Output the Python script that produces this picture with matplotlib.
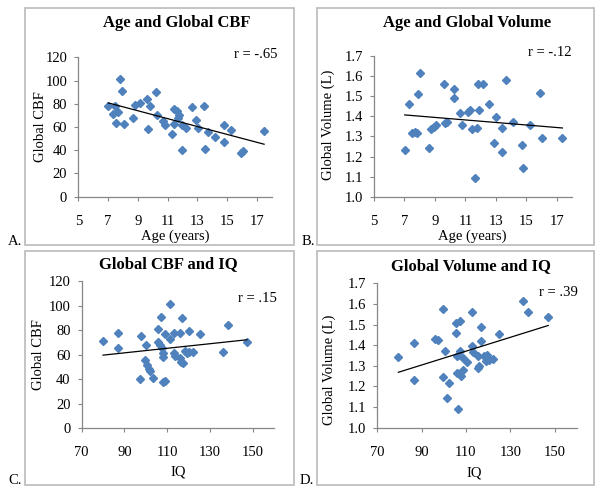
import numpy as np
import matplotlib
matplotlib.use("Agg")
import matplotlib.pyplot as plt
from matplotlib.patches import Rectangle

plt.rcParams['font.family'] = ['Liberation Serif', 'DejaVu Serif']

# Panel A: Age vs Global CBF
age_A = [7.01, 7.46, 7.79, 7.9, 7.3, 7.68, 7.5, 8.04, 8.64, 8.8, 9.13, 9.58, 9.8, 9.65,
         10.2, 10.25, 10.7, 10.8, 11.26, 11.4, 11.64, 11.77, 11.44, 11.7, 11.97, 11.93,
         12.2, 12.64, 12.93, 13.04, 13.42, 13.47, 13.7, 14.16, 14.77, 14.79, 15.28, 15.9,
         16.06, 17.47]
cbf_A = [77.8, 78, 101.7, 91, 71, 72.6, 63.4, 62.5, 67.7, 79.2, 80.7, 84.4, 78.4, 58.2,
         90.5, 70.6, 65.4, 61.3, 53.9, 75.8, 73.5, 70.3, 62.5, 67.7, 40.3, 61.9,
         58.8, 77.5, 66.3, 59, 77.8, 41.4, 55.9, 51.3, 61.6, 47.5, 57.6, 38,
         39.4, 56.7]

# Panel B: Age vs Global Volume
age_B = [7.02, 7.3, 7.5, 7.68, 7.83, 7.9, 8.0, 8.63, 8.74, 8.92, 9.07, 9.57, 9.68, 9.79,
         10.22, 10.22, 10.62, 10.79, 11.18, 11.3, 11.42, 11.66, 11.75, 11.84, 12.14, 11.92,
         12.58, 12.88, 12.99, 13.38, 13.4, 13.64, 14.1, 14.73, 14.76, 15.24, 15.89, 16.0,
         17.37]
vol_B = [1.232, 1.463, 1.319, 1.324, 1.319, 1.509, 1.615, 1.244, 1.338, 1.345, 1.355, 1.559,
         1.368, 1.372, 1.537, 1.489, 1.415, 1.355, 1.42, 1.43, 1.337, 1.093, 1.343, 1.562,
         1.559, 1.431, 1.46, 1.265, 1.398, 1.343, 1.222, 1.579, 1.372, 1.257, 1.144, 1.355,
         1.516, 1.29, 1.292]

# Panel C: IQ vs Global CBF
iq_C = [80.0, 86.9, 86.9, 97.9, 100.0, 97.1, 99.7, 100.5, 101.3, 101.9, 103.2, 105.7, 105.7,
        106.8, 107.2, 107.6, 107.9, 108.0, 107.9, 109.1, 109.1, 111.2, 111.5, 113.2, 113.2,
        113.8, 116, 116, 116.6, 117.3, 117.1, 118.5, 119.1, 120.4, 120.4, 122.3, 125.2, 136,
        138.4, 147.3]
cbf_C = [71.4, 77.4, 65.2, 75.2, 67.6, 40.2, 55.6, 51.6, 48.3, 46.7, 41.3, 80.6, 70.6,
         67.6, 90.4, 65.2, 61.1, 57.8, 38, 38.8, 76.8, 101.5, 72.5, 77.9, 61.1,
         59.2, 77.4, 57, 54.3, 53, 89.9, 63.3, 61.1, 79, 62.4, 61.9, 76.6, 61.9,
         83.9, 70.3]

# Panel D: IQ vs Global Volume
iq_D = [79.5, 86.4, 86.4, 96.0, 97.5, 99.8, 99.5, 100.7, 102.5, 101.6, 105.5, 107.3, 105.5,
        105.8, 107.3, 108.8, 110.3, 106.1, 107.6, 108.8, 106.5, 112.7, 112.6, 113.3, 116.8,
        116.8, 115.6, 116.0, 115.6, 118.1, 119.3, 118.9, 120.4, 122.3, 124.9, 135.9, 138.1,
        147.1]
vol_D = [1.341, 1.409, 1.229, 1.43, 1.427, 1.577, 1.244, 1.37, 1.219, 1.142, 1.507, 1.517,
         1.459, 1.35, 1.37, 1.338, 1.317, 1.265, 1.253, 1.281, 1.093, 1.559, 1.394, 1.365,
         1.488, 1.418, 1.346, 1.3, 1.289, 1.346, 1.354, 1.321, 1.329, 1.334, 1.456, 1.613,
         1.559, 1.535]

titles = ["Age and Global CBF", "Age and Global Volume", "Global CBF and IQ", "Global Volume and IQ"]
xlabels = ["Age (years)", "Age (years)", "IQ", "IQ"]
ylabels = ["Global CBF", "Global Volume (L)", "Global CBF", "Global Volume (L)"]
r_texts = ["r = -.65", "r = -.12", "r = .15", "r = .39"]
panel_letters = ["A.", "B.", "C.", "D."]

W, H = 601, 487
fig = plt.figure(figsize=(W / 100, H / 100), dpi=100)

def fx(x):
    return x / W

def fy(y):
    return 1 - y / H

MARK = '#4F81BD'
SPINE = '#868686'
BORDER = '#BFBFBF'

# chart boxes (left, top, right, bottom) in px
boxes = [(25, 8, 294, 245), (317, 8, 594, 245), (25, 251, 294, 485), (317, 251, 594, 485)]
for (l, t, r, b) in boxes:
    fig.patches.append(Rectangle((fx(l), fy(b)), fx(r) - fx(l), fy(t) - fy(b),
                                 transform=fig.transFigure, fill=False,
                                 edgecolor=BORDER, linewidth=1.3))

# plot areas (left, top, right, bottom) px
areas = [(78.3, 57.3, 272, 196.7), (374, 56, 572, 196.7),
         (81.7, 281, 274, 428.3), (377.3, 283.3, 576.8, 427.7)]

data = [(age_A, cbf_A), (age_B, vol_B), (iq_C, cbf_C), (iq_D, vol_D)]
xlims = [(5, 18), (5, 18), (70, 160), (70, 160)]
ylims = [(0, 120), (1, 1.7), (0, 120), (1, 1.7)]
xticks = [np.arange(5, 18, 2), np.arange(5, 18, 2), np.arange(70, 151, 20), np.arange(70, 151, 20)]
yticks = [np.arange(0, 121, 20), np.arange(1, 1.71, 0.1), np.arange(0, 121, 20), np.arange(1, 1.71, 0.1)]
yfmt = ["{:.0f}", "{:.1f}", "{:.0f}", "{:.1f}"]

title_pos = [(177, 23.3), (467.5, 22.7), (168, 264.5), (471, 266)]
xlabel_pos = [(175, 236), (472, 236), (178, 472), (474, 473)]
ylabel_pos = [(40, 127), (328, 125), (38, 355), (329, 370)]
r_pos = [(277, 55), (572, 53), (277, 298), (578, 292)]
letter_pos = [(15, 242), (308, 242), (15, 480), (307, 480)]

for i in range(4):
    l, t, r, b = areas[i]
    ax = fig.add_axes([fx(l), fy(b), fx(r) - fx(l), fy(t) - fy(b)])
    x = np.array(data[i][0])
    y = np.array(data[i][1])
    ax.plot(x, y, linestyle='none', marker='D', ms=3.9, color=MARK, mec=MARK, zorder=3)
    k, c = np.polyfit(x, y, 1)
    xs = np.array([x.min(), x.max()])
    ax.plot(xs, k * xs + c, color='black', lw=0.9, zorder=4)
    ax.set_xlim(*xlims[i])
    ax.set_ylim(*ylims[i])
    ax.set_xticks(xticks[i])
    ax.set_yticks(yticks[i])
    ax.set_yticklabels([yfmt[i].format(v) for v in yticks[i]])
    for s in ['top', 'right']:
        ax.spines[s].set_visible(False)
    for s in ['left', 'bottom']:
        ax.spines[s].set_color(SPINE)
        ax.spines[s].set_linewidth(0.9)
    ax.tick_params(axis='both', direction='out', length=3, width=0.8, color=SPINE,
                   labelsize=10.5, labelcolor='black')
    ax.tick_params(axis='x', pad=10)
    ax.tick_params(axis='y', pad=5)
    ax.patch.set_alpha(0)

    fig.text(fx(title_pos[i][0]), fy(title_pos[i][1]), titles[i], ha='center', va='center',
             fontsize=12, fontweight='bold')
    fig.text(fx(xlabel_pos[i][0]), fy(xlabel_pos[i][1]), xlabels[i], ha='center', va='center',
             fontsize=10.5)
    fig.text(fx(ylabel_pos[i][0]), fy(ylabel_pos[i][1]), ylabels[i], ha='center', va='center',
             fontsize=10.5, rotation=90)
    fig.text(fx(r_pos[i][0]), fy(r_pos[i][1]), r_texts[i], ha='right', va='center',
             fontsize=10.5)
    fig.text(fx(letter_pos[i][0]), fy(letter_pos[i][1]), panel_letters[i], ha='center',
             va='center', fontsize=10.5)

fig.savefig('out.png', dpi=100)
